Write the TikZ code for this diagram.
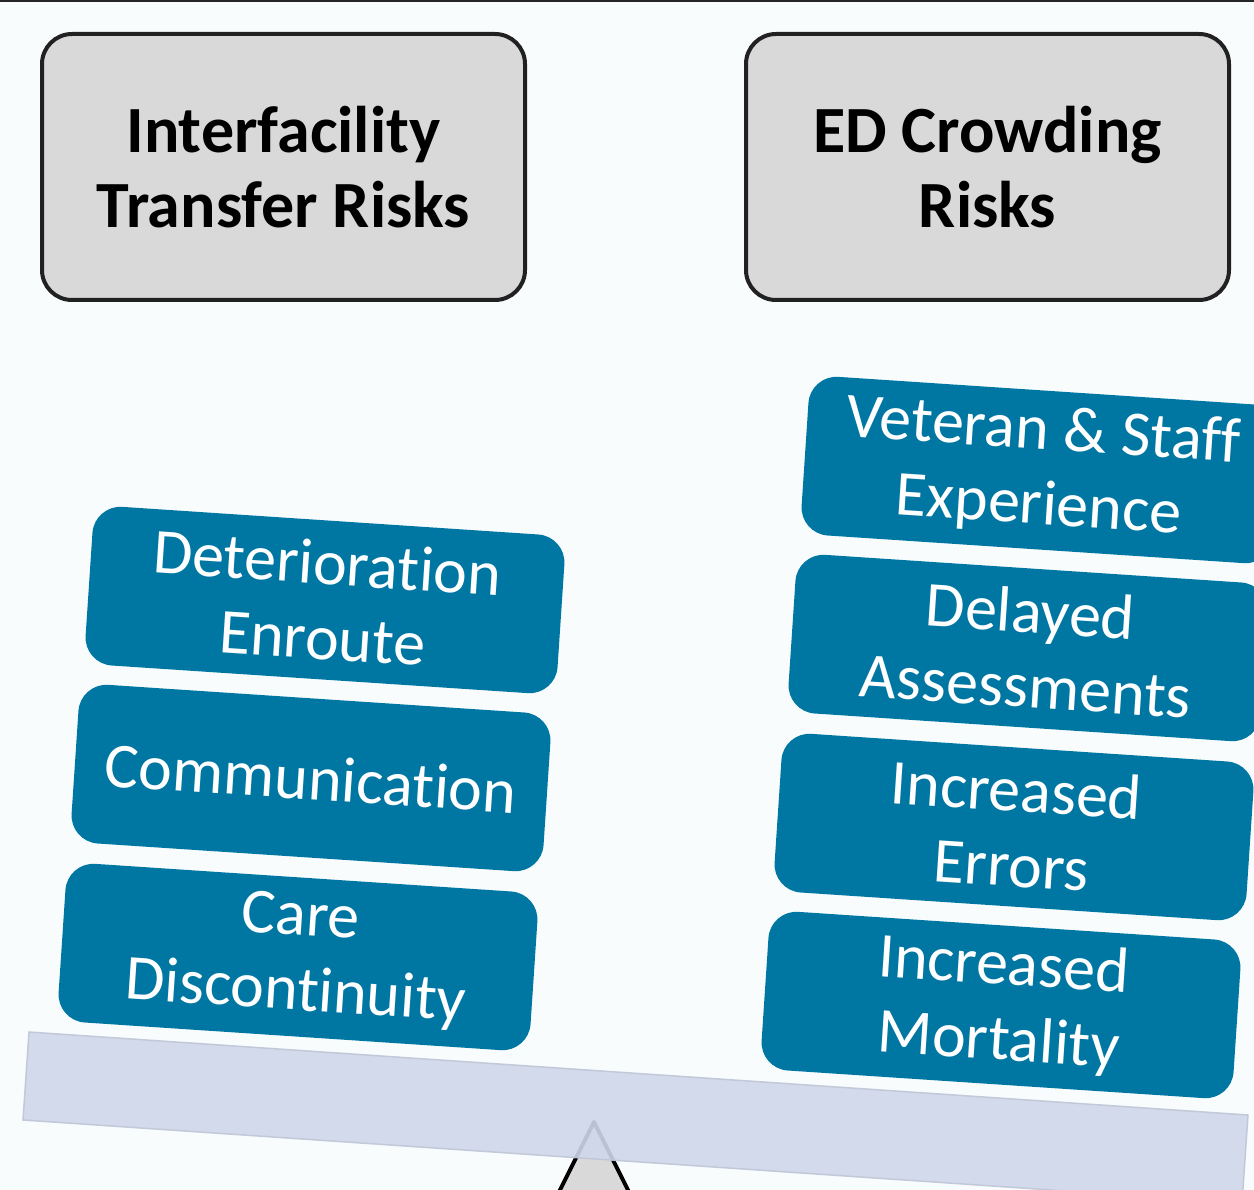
\documentclass[tikz,border=0pt]{standalone}
\usepackage{fontspec}
\setmainfont{Carlito}[RawFeature={-liga;-clig;-calt}]
\usepackage{tikz}
\usetikzlibrary{positioning}

\definecolor{riskgray}{HTML}{D9D9D9}
\definecolor{factorblue}{HTML}{0077A3}
\definecolor{beamblue}{HTML}{CED7EA}
\definecolor{paper}{HTML}{F8FCFD}

\begin{document}
\begin{tikzpicture}[x=1pt,y=-1pt,
    riskbox/.style={draw=black!87,line width=4pt,fill=riskgray,rounded corners=30pt,
        minimum width=483pt,minimum height=266pt,align=center,
        font=\fontsize{66}{75}\selectfont\bfseries},
    factorbox/.style={fill=factorblue,text=white,rounded corners=28pt,
        minimum width=473pt,minimum height=159pt,align=center,rotate=-3.8,
        font=\fontsize{64}{75}\selectfont}]
\clip (0,0) rectangle (1254,1190);
\fill[paper] (0,0) rectangle (1254,1190);
\draw[line width=3pt,black!85] (0,1) -- (1254,1);

% Headings
\node[riskbox] (transfer) at (283.5,167) {Interfacility\\Transfer Risks};
\node[riskbox] (crowding) at (987.5,167) {ED Crowding\\Risks};

% Fulcrum
\draw[fill=riskgray,line width=4pt,line join=round] (594,1122) -- (535,1240) -- (653,1240) -- cycle;

% Beam (tilted towards the right)
\draw[fill=beamblue,draw=beamblue!92!black,line width=1.5pt,opacity=0.9]
    (29,1032) -- (1248,1115) -- (1242,1203) -- (23,1120) -- cycle;

% Left stack
\node[factorbox] (deterioration) at (325,600) {Deterioration\\Enroute};
\node[factorbox] (communication) at (311,778) {Communication};
\node[factorbox] (discontinuity) at (298,957) {Care\\Discontinuity};

% Right stack
\node[factorbox] (experience) at (1041,470) {Veteran \& Staff\\Experience};
\node[factorbox] (assessments) at (1028,648) {Delayed\\Assessments};
\node[factorbox] (errors) at (1014,827) {Increased\\Errors};
\node[factorbox] (mortality) at (1001,1005) {Increased\\Mortality};
\end{tikzpicture}
\end{document}
